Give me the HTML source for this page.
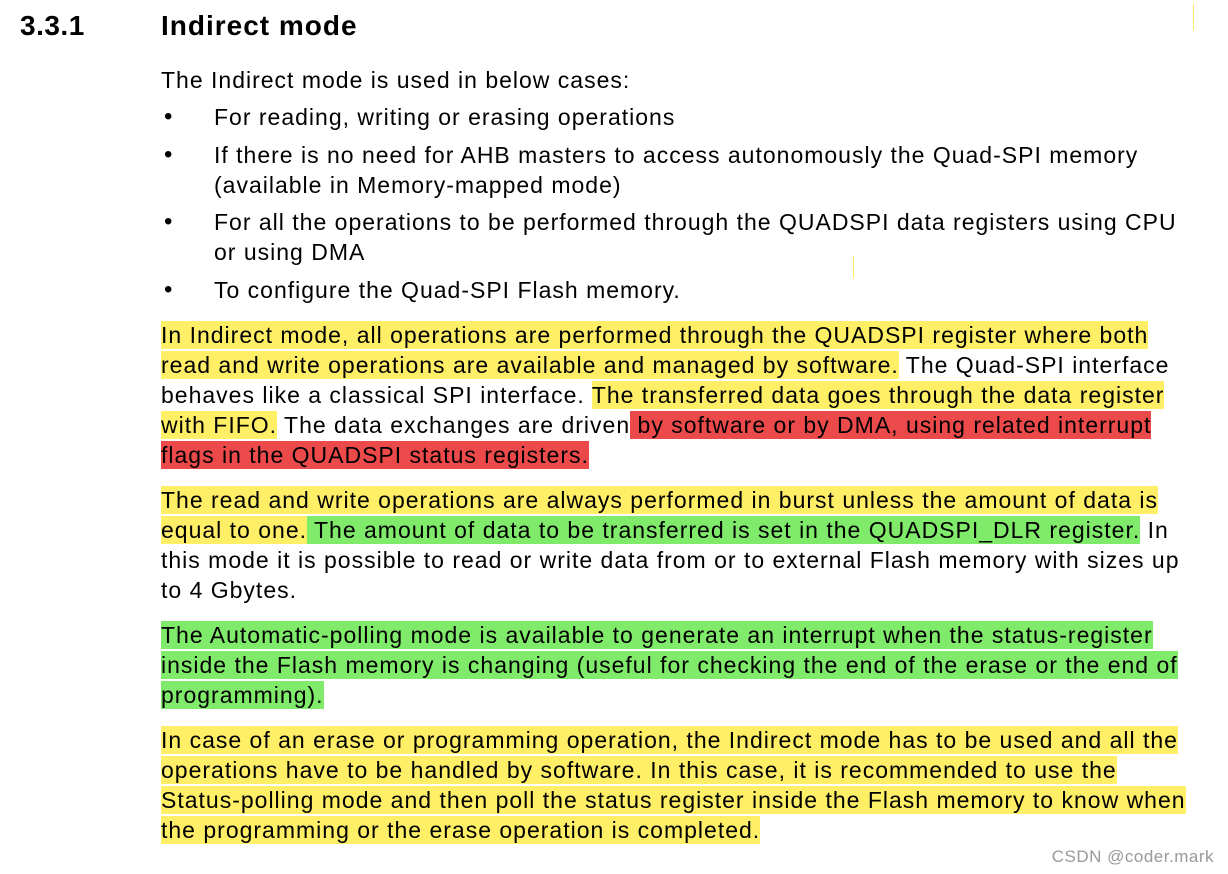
<!DOCTYPE html>
<html><head><meta charset="utf-8"><style>
html,body{margin:0;padding:0;background:#fff;}
body{width:1228px;height:874px;position:relative;overflow:hidden;font-family:"Liberation Sans",Arial,sans-serif;color:#000;}
.l{position:absolute;left:161px;height:30px;line-height:30px;font-size:23px;letter-spacing:1px;white-space:nowrap;}
.b{left:214px;}
.dot{position:absolute;left:164px;font-size:24px;line-height:30px;height:30px;}
.y{background:#FFEF66;padding:1px 0;}
.r{background:#EC4A4A;padding:1px 0;}
.g{background:#80EB6A;padding:1px 0;}
</style></head><body>
<div style="position:absolute;left:20px;top:9px;font-size:28px;font-weight:bold;line-height:34px;letter-spacing:0.5px;">3.3.1</div>
<div style="position:absolute;left:161px;top:9px;font-size:28px;font-weight:bold;line-height:34px;letter-spacing:1px;">Indirect mode</div>
<div style="position:absolute;left:1193px;top:4px;width:1px;height:26px;background:#FFE866;"></div>
<div style="position:absolute;left:853px;top:256px;width:1px;height:22px;background:#FFE866;"></div>

<div class="l" style="top:65px">The Indirect mode is used in below cases:</div>
<div class="dot" style="top:102px">•</div>
<div class="l b" style="top:102px">For reading, writing or erasing operations</div>
<div class="dot" style="top:140px">•</div>
<div class="l b" style="top:140px">If there is no need for AHB masters to access autonomously the Quad-SPI memory</div>
<div class="l b" style="top:170px">(available in Memory-mapped mode)</div>
<div class="dot" style="top:207px">•</div>
<div class="l b" style="top:207px">For all the operations to be performed through the QUADSPI data registers using CPU</div>
<div class="l b" style="top:237px">or using DMA</div>
<div class="dot" style="top:275px">•</div>
<div class="l b" style="top:275px">To configure the Quad-SPI Flash memory.</div>

<div class="l" style="top:320px"><span class="y">In Indirect mode, all operations are performed through the QUADSPI register where both </span></div>
<div class="l" style="top:350px"><span class="y">read and write operations are available and managed by software.</span> The Quad-SPI interface</div>
<div class="l" style="top:380px">behaves like a classical SPI interface. <span class="y">The transferred data goes through the data register </span></div>
<div class="l" style="top:410px"><span class="y">with FIFO.</span> The data exchanges are driven<span class="r"> by software or by DMA, using related interrupt </span></div>
<div class="l" style="top:440px"><span class="r">flags in the QUADSPI status registers.</span></div>

<div class="l" style="top:485px"><span class="y">The read and write operations are always performed in burst unless the amount of data is </span></div>
<div class="l" style="top:515px"><span class="y">equal to one.</span><span class="g"> The amount of data to be transferred is set in the QUADSPI_DLR register.</span> In</div>
<div class="l" style="top:545px">this mode it is possible to read or write data from or to external Flash memory with sizes up</div>
<div class="l" style="top:575px">to 4 Gbytes.</div>

<div class="l" style="top:620px"><span class="g">The Automatic-polling mode is available to generate an interrupt when the status-register </span></div>
<div class="l" style="top:650px"><span class="g">inside the Flash memory is changing (useful for checking the end of the erase or the end of </span></div>
<div class="l" style="top:680px"><span class="g">programming).</span></div>

<div class="l" style="top:725px"><span class="y">In case of an erase or programming operation, the Indirect mode has to be used and all the </span></div>
<div class="l" style="top:755px"><span class="y">operations have to be handled by software. In this case, it is recommended to use the </span></div>
<div class="l" style="top:785px"><span class="y">Status-polling mode and then poll the status register inside the Flash memory to know when </span></div>
<div class="l" style="top:815px"><span class="y">the programming or the erase operation is completed.</span></div>

<div style="position:absolute;right:14px;top:847px;font-size:17px;letter-spacing:0.5px;color:#999;line-height:20px;">CSDN @coder.mark</div>
</body></html>
